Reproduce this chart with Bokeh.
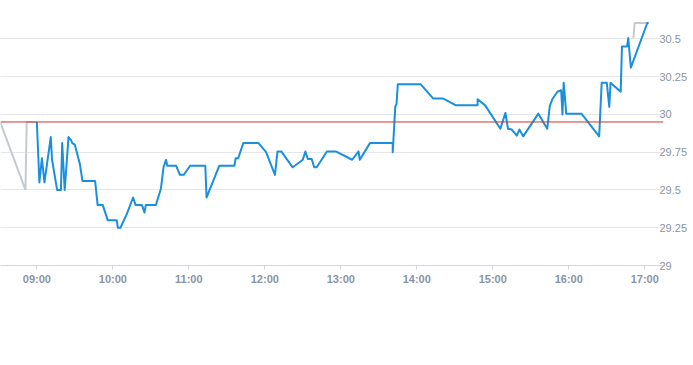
import pandas as pd
from bokeh.plotting import figure
from bokeh.models import Span, FixedTicker, NumeralTickFormatter, DatetimeTickFormatter, Range1d
from bokeh.embed import file_html
from bokeh.resources import INLINE

day = "2024-01-02"

# intraday trades (blue)
times = ["09:00", "09:02", "09:04", "09:06", "09:11", "09:12", "09:16", "09:19", "09:20", "09:22",
         "09:25", "09:27", "09:28", "09:30", "09:34", "09:36", "09:46", "09:48", "09:52", "09:56",
         "10:03", "10:04", "10:06", "10:11", "10:16", "10:18", "10:23", "10:25", "10:26", "10:34",
         "10:38", "10:40", "10:42", "10:43", "10:50", "10:53", "10:56", "11:01", "11:13", "11:14",
         "11:24", "11:36", "11:37", "11:39", "11:43", "11:55", "12:01", "12:08", "12:10", "12:13",
         "12:22", "12:30", "12:32", "12:34", "12:37", "12:39", "12:41", "12:49", "12:56", "13:09",
         "13:14", "13:15", "13:23", "13:41", "13:41", "13:43", "13:44", "13:45", "14:03", "14:13",
         "14:21", "14:31", "14:48", "14:48", "14:54", "15:06", "15:10", "15:12", "15:15", "15:19",
         "15:21", "15:24", "15:36", "15:43", "15:45", "15:47", "15:51", "15:54", "15:55", "15:56",
         "15:58", "16:10", "16:24", "16:26", "16:30", "16:32", "16:33", "16:41", "16:42", "16:46",
         "16:47", "16:49", "17:02", "17:03"]
prices = [29.95, 29.55, 29.71, 29.55, 29.85, 29.70, 29.50, 29.50, 29.81, 29.50,
          29.85, 29.83, 29.81, 29.80, 29.67, 29.56, 29.56, 29.40, 29.40, 29.30,
          29.30, 29.25, 29.25, 29.34, 29.45, 29.40, 29.40, 29.35, 29.40, 29.40,
          29.51, 29.65, 29.70, 29.66, 29.66, 29.60, 29.60, 29.66, 29.66, 29.45,
          29.66, 29.66, 29.71, 29.71, 29.81, 29.81, 29.75, 29.60, 29.755, 29.755,
          29.65, 29.70, 29.755, 29.705, 29.705, 29.65, 29.65, 29.755, 29.755, 29.70,
          29.755, 29.70, 29.81, 29.81, 29.75, 30.05, 30.07, 30.20, 30.20, 30.105,
          30.105, 30.06, 30.06, 30.10, 30.06, 29.905, 30.01, 29.905, 29.90, 29.86,
          29.90, 29.855, 30.005, 29.905, 30.055, 30.10, 30.15, 30.16, 30.00, 30.21,
          30.005, 30.005, 29.855, 30.21, 30.21, 30.05, 30.21, 30.15, 30.45, 30.45,
          30.505, 30.31, 30.605, 30.605]

# pre-market (grey)
pre_times = ["08:31", "08:51", "08:52", "09:00"]
pre_prices = [29.95, 29.50, 29.95, 29.95]
# post-market (grey)
post_times = ["16:51", "16:52", "17:03"]
post_prices = [30.505, 30.605, 30.605]

prev_close = 29.95
y_ticks = [29, 29.25, 29.5, 29.75, 30, 30.25, 30.5]
x_tick_labels = ["09:00", "10:00", "11:00", "12:00", "13:00", "14:00", "15:00", "16:00", "17:00"]


def ts(t):
    return pd.Timestamp(f"{day} {t}")


def ms(t):
    return ts(t).value // 10**6


p = figure(width=693, height=365, x_axis_type="datetime", y_axis_location="right",
           output_backend="svg", toolbar_location=None,
           x_range=Range1d(ts("08:31:18"), ts("17:14:48")),
           y_range=Range1d(29.0, 30.754),
           min_border_left=0, min_border_top=0, min_border_right=30, min_border_bottom=100)
p.outline_line_color = None
p.background_fill_color = "white"
p.border_fill_color = "white"

p.xgrid.grid_line_color = None
p.ygrid.grid_line_color = "#e6e6e6"
p.ygrid.grid_line_width = 1

xa = p.xaxis[0]
xa.ticker = FixedTicker(ticks=[ms(t) for t in x_tick_labels])
xa.formatter = DatetimeTickFormatter(hours="%H:%M", minutes="%H:%M", days="%H:%M")
xa.axis_line_color = "#ccd6eb"
xa.major_tick_line_color = "#ccd6eb"
xa.major_tick_out = 4
xa.major_tick_in = 0
xa.minor_tick_line_color = None
xa.major_label_text_font = "Liberation Sans"
xa.major_label_text_font_style = "bold"
xa.major_label_text_font_size = "11px"
xa.major_label_text_color = "#8a94a4"
xa.major_label_standoff = 3

ya = p.yaxis[0]
ya.ticker = FixedTicker(ticks=y_ticks)
ya.formatter = NumeralTickFormatter(format="0.[00]")
ya.axis_line_color = None
ya.major_tick_line_color = None
ya.minor_tick_line_color = None
ya.major_tick_out = 0
ya.major_tick_in = 0
ya.major_label_text_font = "Liberation Sans"
ya.major_label_text_font_size = "11px"
ya.major_label_text_color = "#8a94a4"
ya.major_label_text_align = "right"
ya.major_label_standoff = -4

p.line([ts(t) for t in pre_times], pre_prices, line_color="#c5cad1", line_width=2)
p.line([ts(t) for t in post_times], post_prices, line_color="#c5cad1", line_width=2)
p.line([ts(t) for t in times], prices, line_color="#1a8fdd", line_width=2, line_join="round")

p.add_layout(Span(location=prev_close, dimension="width", line_color="#d0342c", line_width=1))

open("out.html", "w").write(file_html(p, INLINE))
